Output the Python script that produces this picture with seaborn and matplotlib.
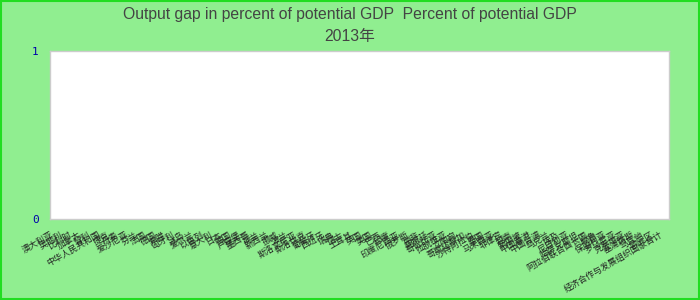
import numpy as np
import pandas as pd
import matplotlib
matplotlib.use("Agg")
import matplotlib.pyplot as plt
import seaborn as sns

countries = [
    "澳大利亚", "奥地利", "比利时", "加拿大", "智利", "中华人民共和国", "捷克", "丹麦",
    "爱沙尼亚", "芬兰", "法国", "德国", "希腊", "匈牙利", "冰岛", "爱尔兰",
    "以色列", "意大利", "日本", "韩国", "卢森堡", "墨西哥", "荷兰", "新西兰",
    "挪威", "波兰", "斯洛文尼亚", "斯洛伐克", "葡萄牙", "西班牙", "瑞典", "瑞士",
    "土耳其", "英国", "美国", "巴西", "印度", "印度尼西亚", "俄罗斯", "南非",
    "阿根廷", "哥伦比亚", "拉脱维亚", "立陶宛", "哥斯达黎加", "沙特阿拉伯", "泰国", "马来西亚",
    "菲律宾", "越南", "新加坡", "中国香港", "中国台湾", "乌克兰", "埃及", "尼日利亚",
    "哈萨克斯坦", "阿拉伯联合酋长国", "秘鲁", "保加利亚", "罗马尼亚", "克罗地亚", "塞浦路斯", "马耳他",
    "欧元区", "经济合作与发展组织国家合计",
]
output_gap = [np.nan] * len(countries)  # no values visible in the reference
y_ticks = [0, 1]

title_line1 = "Output gap in percent of potential GDP  Percent of potential GDP"
title_line2 = "2013年"

df = pd.DataFrame({"country": countries, "gap": output_gap})

sns.set_theme(style="white")
plt.rcParams["font.family"] = ["Noto Sans CJK SC", "DejaVu Sans"]

fig = plt.figure(figsize=(7, 3), dpi=100, facecolor="#90EE90")
ax = fig.add_axes([50 / 700, 1 - 219 / 300, 619 / 700, 168 / 300])
ax.set_facecolor("white")

sns.barplot(data=df, x="country", y="gap", order=countries, ax=ax, color="#5470c6")

ax.set_ylim(0, 1)
ax.set_yticks(y_ticks)
ax.set_yticklabels([str(v) for v in y_ticks], color="#0000aa", fontsize=8,
                   family=["DejaVu Sans Mono"])
ax.set_xlabel("")
ax.set_ylabel("")
ax.tick_params(axis="y", length=0, pad=8)
ax.tick_params(axis="x", length=0, pad=8)
ax.set_xticks(range(len(countries)))
ax.set_xticklabels(countries, rotation=30, ha="right", fontsize=6.2, color="#222222",
                   family=["Noto Sans CJK SC", "DejaVu Sans"])
for s in ax.spines.values():
    s.set_color("#cccccc")
    s.set_linewidth(1)

fig.text(0.5, 1 - 14 / 300, title_line1, ha="center", va="center", fontsize=11.3,
         color="#444444", family=["Liberation Sans", "Noto Sans CJK SC"])
fig.text(0.5, 1 - 37 / 300, title_line2, ha="center", va="center", fontsize=11.3,
         color="#444444", family=["Liberation Sans", "Noto Sans CJK SC"])

border = plt.Rectangle((0.001, 0.002), 0.997, 0.995, transform=fig.transFigure,
                       fill=False, edgecolor="#22dd22", linewidth=1.5)
fig.patches.append(border)

fig.savefig("out.png", dpi=100, facecolor=fig.get_facecolor())
